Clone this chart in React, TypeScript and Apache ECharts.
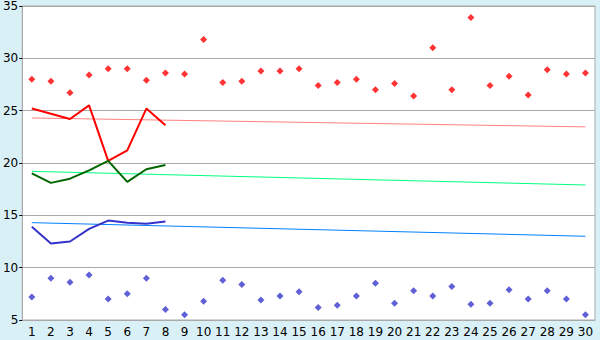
import React, { useEffect, useRef } from "react";
import * as echarts from "echarts";

const categories = Array.from({ length: 30 }, (_, i) => String(i + 1));

const highPoints = [28.0, 27.8, 26.7, 28.4, 29.0, 29.0, 27.9, 28.6, 28.5, 31.8, 27.7, 27.8, 28.8, 28.8, 29.0, 27.4, 27.7, 28.0, 27.0, 27.6, 26.4, 31.0, 27.0, 33.9, 27.4, 28.3, 26.5, 28.9, 28.5, 28.6];
const lowPoints = [7.2, 9.0, 8.6, 9.3, 7.0, 7.5, 9.0, 6.0, 5.5, 6.8, 8.8, 8.4, 6.9, 7.3, 7.7, 6.2, 6.4, 7.3, 8.5, 6.6, 7.8, 7.3, 8.2, 6.5, 6.6, 7.9, 7.0, 7.8, 7.0, 5.5];

const redLine = [25.2, 24.7, 24.2, 25.5, 20.2, 21.2, 25.2, 23.6];
const greenLine = [19.0, 18.1, 18.5, 19.3, 20.2, 18.2, 19.4, 19.8];
const blueLine = [13.9, 12.3, 12.5, 13.7, 14.5, 14.3, 14.2, 14.4];

// trend endpoints [start at category 1, end at category 30]
const redTrend = [24.3, 23.45];
const greenTrend = [19.2, 17.9];
const blueTrend = [14.3, 13.0];

const yTicks = { min: 5, max: 35, interval: 5 };

export default function App() {
  const ref = useRef<HTMLDivElement>(null);
  useEffect(() => {
    if (!ref.current) return;
    const chart = echarts.init(ref.current, null, { renderer: "svg" });
    const last = categories.length - 1;
    const trend = (vals: number[], color: string) => ({
      type: "line",
      data: [
        [0, vals[0]],
        [last, vals[1]],
      ],
      symbol: "none",
      lineStyle: { color, width: 1 },
      z: 2,
    });
    const thick = (vals: number[], color: string) => ({
      type: "line",
      data: vals,
      symbol: "none",
      lineStyle: { color, width: 2 },
      z: 3,
    });
    chart.setOption({
      animation: false,
      backgroundColor: "#DAF0F7",
      textStyle: { fontFamily: "DejaVu Sans" },
      grid: {
        left: 20,
        top: 5,
        right: 5,
        bottom: 20,
        show: true,
        backgroundColor: "#FFFFFF",
        borderColor: "#AAAAAA",
        borderWidth: 1,
      },
      xAxis: {
        type: "category",
        data: categories,
        boundaryGap: true,
        axisLine: { lineStyle: { color: "#AAAAAA" } },
        axisTick: { alignWithLabel: true, length: 5, lineStyle: { color: "#000000" } },
        axisLabel: { color: "#000000", fontSize: 12, margin: 6, interval: 0 },
        splitLine: { show: false },
      },
      yAxis: {
        type: "value",
        min: yTicks.min,
        max: yTicks.max,
        interval: yTicks.interval,
        axisLine: { show: true, lineStyle: { color: "#AAAAAA" } },
        axisTick: { show: true, length: 3, lineStyle: { color: "#000000" } },
        axisLabel: { color: "#000000", fontSize: 12, margin: 4 },
        splitLine: { lineStyle: { color: "#AAAAAA" } },
      },
      series: [
        trend(redTrend, "#FF8080"),
        trend(greenTrend, "#00FF80"),
        trend(blueTrend, "#0080FF"),
        thick(redLine, "#FF0000"),
        thick(greenLine, "#006600"),
        thick(blueLine, "#3333CC"),
        {
          type: "scatter",
          data: highPoints,
          symbol: "diamond",
          symbolSize: 7,
          itemStyle: { color: "#FF0000" },
          z: 4,
        },
        {
          type: "scatter",
          data: lowPoints,
          symbol: "diamond",
          symbolSize: 7,
          itemStyle: { color: "#3838CC" },
          z: 4,
        },
      ],
    });
    return () => chart.dispose();
  }, []);
  return <div ref={ref} style={{ width: 600, height: 340, position: "fixed", left: 0, top: 0 }} />;
}
